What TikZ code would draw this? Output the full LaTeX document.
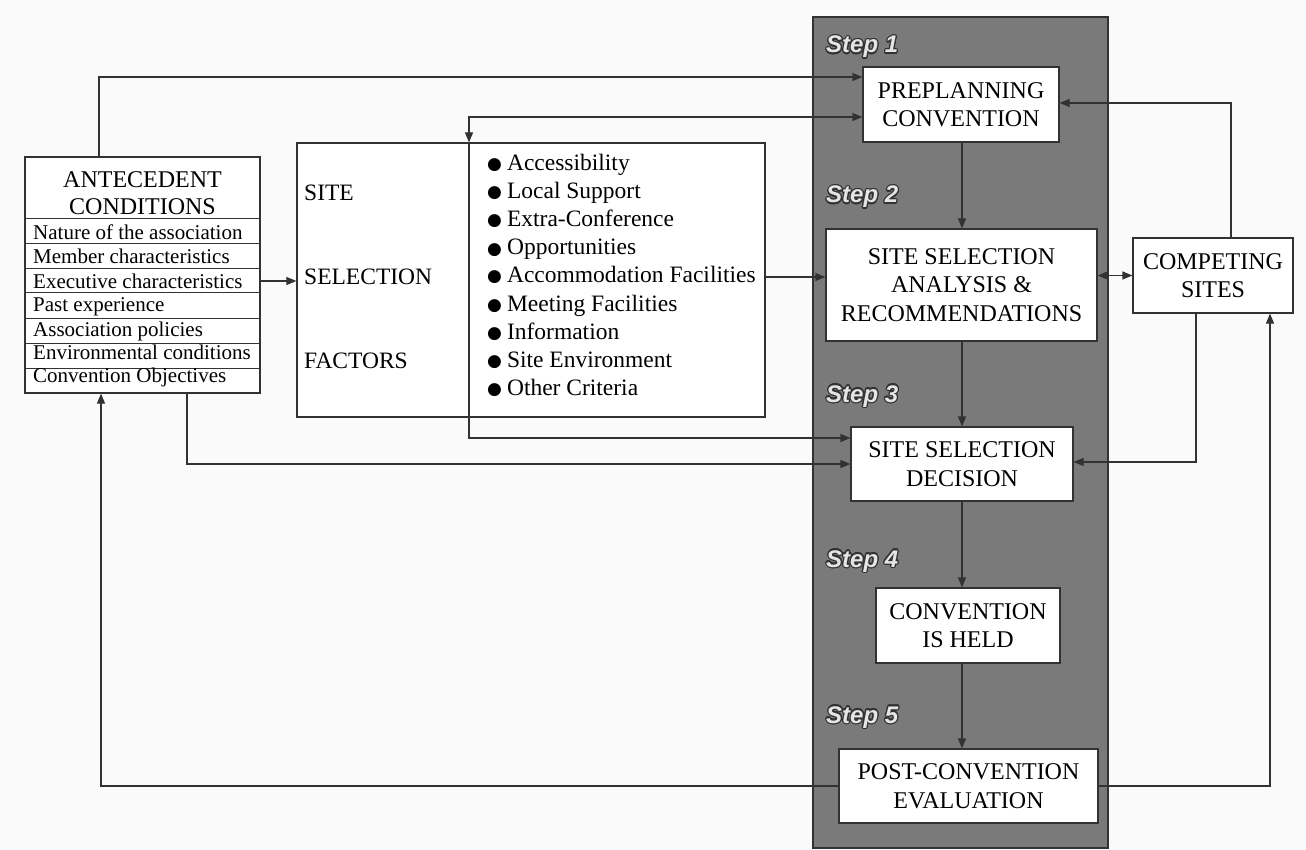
\documentclass[tikz,border=0pt]{standalone}
\usepackage{fontspec}
\setmainfont{Liberation Serif}
\newfontfamily\stepfont{Liberation Sans}
\newfontfamily\dejavu{DejaVu Sans}
\usepackage{contour}
\contourlength{1.2pt}
\usetikzlibrary{arrows.meta}
\definecolor{ink}{RGB}{50,50,50}
\definecolor{colgrey}{RGB}{122,122,122}
\definecolor{paper}{RGB}{250,250,250}
\begin{document}
\begin{tikzpicture}[x=1pt,y=-1pt,
  tip/.tip={Triangle[length=10pt,width=8pt]},
  box/.style={draw=ink, fill=white, line width=1.2pt, inner sep=0pt, align=center,
    font=\fontsize{24}{28.5}\selectfont},
  frame/.style={draw=ink, line width=1.2pt, inner sep=0pt},
  conn/.style={draw=ink, line width=1.2pt, -tip},
  dconn/.style={draw=ink, line width=1.2pt, tip-tip},
  plain/.style={draw=ink, line width=1.2pt},
  steplbl/.style={anchor=base west, inner sep=0pt, text=white!90!black,
    font=\stepfont\bfseries\itshape\fontsize{24}{24}\selectfont},
  big/.style={anchor=base west, inner sep=0pt, font=\fontsize{23.5}{28}\selectfont},
  row/.style={anchor=base west, inner sep=0pt, font=\fontsize{21}{24}\selectfont},
  item/.style={anchor=base west, inner sep=0pt, font=\fontsize{23.5}{28}\selectfont},
  column/.style={draw=ink, fill=colgrey, line width=1.2pt, inner sep=0pt}
]
\useasboundingbox (0,0) rectangle (1306,850);
\fill[paper] (0,0) rectangle (1306,850);

% step column
\node[column, minimum width=295pt, minimum height=831pt] (col) at (960.5,432.5) {};

% coordinates for connector positions
\coordinate (cx) at (962,0);
\coordinate (a1) at (99,0);
\coordinate (a2) at (187,0);
\coordinate (a3) at (101,0);
\coordinate (dvx) at (469,0);
\coordinate (c1) at (1231,0);
\coordinate (c2) at (1196,0);
\coordinate (c3) at (1270,0);

% step boxes
\node[box, minimum width=196pt, minimum height=75pt] (pre) at (961,104.5) {PREPLANNING\\CONVENTION};
\node[box, minimum width=271pt, minimum height=112pt] (ana) at (961.5,285) {SITE SELECTION\\ANALYSIS \&\\RECOMMENDATIONS};
\node[box, minimum width=222pt, minimum height=74pt] (dec) at (962,464) {SITE SELECTION\\DECISION};
\node[box, minimum width=184pt, minimum height=75pt] (held) at (968,625.5) {CONVENTION\\IS HELD};
\node[box, minimum width=259pt, minimum height=74pt] (post) at (968.5,786) {POST-CONVENTION\\EVALUATION};
\node[box, minimum width=160pt, minimum height=75pt] (comp) at (1213,275.5) {COMPETING\\SITES};

% step labels
\node[steplbl] (s1) at (826,53) {\contour{ink}{Step 1}};
\node[steplbl] (s2) at (826,203) {\contour{ink}{Step 2}};
\node[steplbl] (s3) at (826,402) {\contour{ink}{Step 3}};
\node[steplbl] (s4) at (826,567) {\contour{ink}{Step 4}};
\node[steplbl] (s5) at (826,723) {\contour{ink}{Step 5}};

% antecedent conditions
\node[frame, fill=white, minimum width=235pt, minimum height=236pt] (ant) at (142.5,275) {};
\node[align=center, inner sep=0pt, font=\fontsize{24}{27.5}\selectfont] (anth) at (142.5,193) {ANTECEDENT\\CONDITIONS};
\foreach \yy in {219,244,269,293,318,343,368}
  \draw[plain, line width=1pt] (25,\yy) -- (260,\yy);
\node[row] (r1) at (33,240) {Nature of the association};
\node[row] (r2) at (33,264) {Member characteristics};
\node[row] (r3) at (33,289) {Executive characteristics};
\node[row] (r4) at (33,312) {Past experience};
\node[row] (r5) at (33,336) {Association policies};
\node[row] (r6) at (33,359) {Environmental conditions};
\node[row] (r7) at (33,382) {Convention Objectives};

% site selection factors
\node[frame, fill=white, minimum width=468pt, minimum height=274pt] (fac) at (531,280) {};
\node[big] (t1) at (304,201) {SITE};
\node[big] (t2) at (304,285) {SELECTION};
\node[big] (t3) at (304,368) {FACTORS};
\foreach \t [count=\i] in {Accessibility, Local Support, Extra-Conference, Opportunities,
  Accommodation Facilities, Meeting Facilities, Information, Site Environment, Other Criteria}
  \node[item] (f\i) at (487,{171+28*(\i-1)}) {{\dejavu\fontsize{17}{17}\selectfont\raisebox{1pt}{●}}\hspace{5pt}\t};

% divider / connector through factors box
\draw[plain] (fac.north -| dvx) -- (fac.south -| dvx);

% connectors
\draw[conn] (ant.north -| a1) |- ([yshift=27.5pt]pre.west);
\draw[dconn] ([yshift=-12.5pt]pre.west) -| (fac.north -| dvx);
\draw[conn] (fac.south -| dvx) |- ([yshift=26pt]dec.west);
\draw[conn] (ant.south -| a2) |- (dec.west);
\draw[conn] ([yshift=-6pt]ant.east) -- ([yshift=-6pt]ant.east -| fac.west);
\draw[conn] ([yshift=8pt]ana.west -| fac.east) -- ([yshift=8pt]ana.west);
\draw[dconn] (comp.west -| ana.east) -- (comp.west);
\draw[conn] (pre.south -| cx) -- (ana.north -| cx);
\draw[conn] (ana.south -| cx) -- (dec.north -| cx);
\draw[conn] (dec.south -| cx) -- (held.north -| cx);
\draw[conn] (held.south -| cx) -- (post.north -| cx);
\draw[conn] (comp.north -| c1) |- ([yshift=1.5pt]pre.east);
\draw[conn] (comp.south -| c2) |- ([yshift=2pt]dec.east);
\draw[conn] (post.east) -| (comp.south -| c3);
\draw[conn] (post.west) -| (ant.south -| a3);
\end{tikzpicture}
\end{document}
